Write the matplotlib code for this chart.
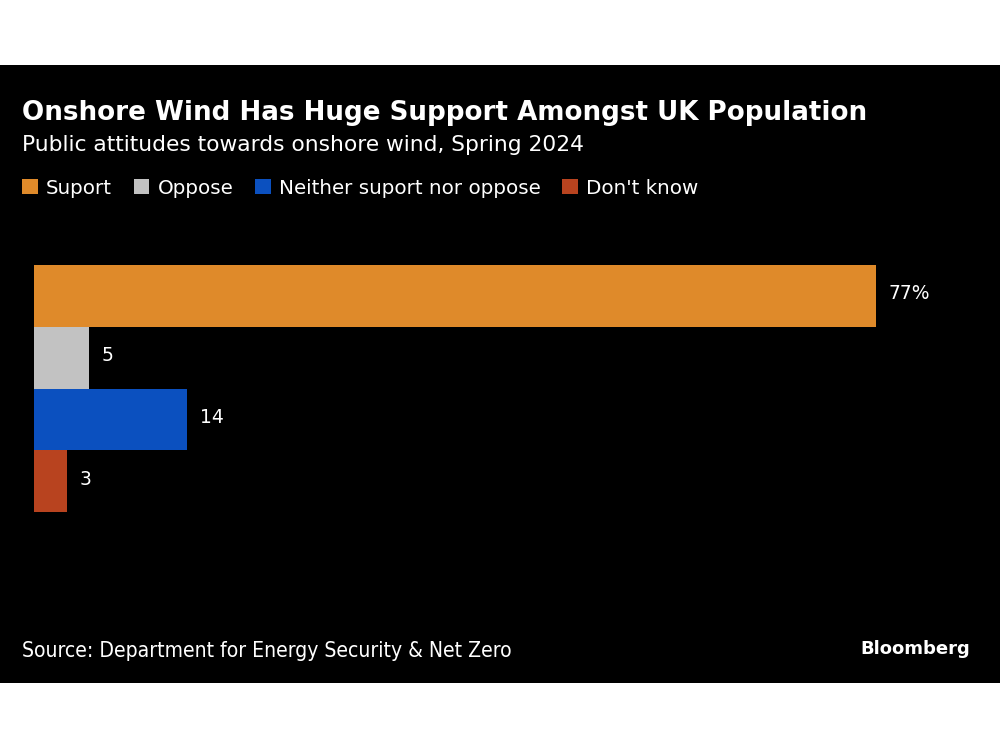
import matplotlib.pyplot as plt
from matplotlib.patches import Rectangle, Patch

# Data
categories = ['Suport', 'Oppose', 'Neither suport nor oppose', "Don't know"]
values = [77, 5, 14, 3]
labels = ['77%', '5', '14', '3']
colors = ['#DF8A2A', '#C2C2C2', '#0B50BF', '#B8431F']

fig = plt.figure(figsize=(10, 7.5), dpi=100, facecolor='white')

# black panel
fig.patches.append(Rectangle((0, 0.0893), 1, 0.824, transform=fig.transFigure,
                             facecolor='black', edgecolor='none', zorder=-10))

ax = fig.add_axes([0.034, 0.3173, 0.842, 0.3293])
ax.set_zorder(5)
ax.set_facecolor('none')
ax.barh(range(len(values)), values, height=1.0, color=colors)
ax.set_xlim(0, 77)
ax.set_ylim(3.5, -0.5)
ax.axis('off')

for i, (v, lab) in enumerate(zip(values, labels)):
    ax.annotate(lab, (v, i), xytext=(9, 1.5), textcoords='offset points',
                va='center', ha='left', color='white', fontsize=13.5,
                annotation_clip=False)

fig.text(0.022, 0.849, 'Onshore Wind Has Huge Support Amongst UK Population',
         color='white', fontsize=18.8, fontweight='bold', va='center')
fig.text(0.022, 0.807, 'Public attitudes towards onshore wind, Spring 2024',
         color='white', fontsize=15.7, va='center')

handles = [Patch(facecolor=c, edgecolor='none') for c in colors]
fig.legend(handles, categories, loc='center left', bbox_to_anchor=(0.004, 0.749),
           ncol=4, frameon=False, fontsize=14.3, labelcolor='white',
           handlelength=0.8, handleheight=0.8, handletextpad=0.4,
           columnspacing=1.1)

fig.text(0.022, 0.132, 'Source: Department for Energy Security & Net Zero',
         color='white', fontsize=15.1, va='center', fontstretch='condensed')
fig.text(0.970, 0.135, 'Bloomberg', color='white', fontsize=13,
         fontweight='bold', ha='right', va='center')

fig.savefig('out.png', dpi=100, facecolor='white')
